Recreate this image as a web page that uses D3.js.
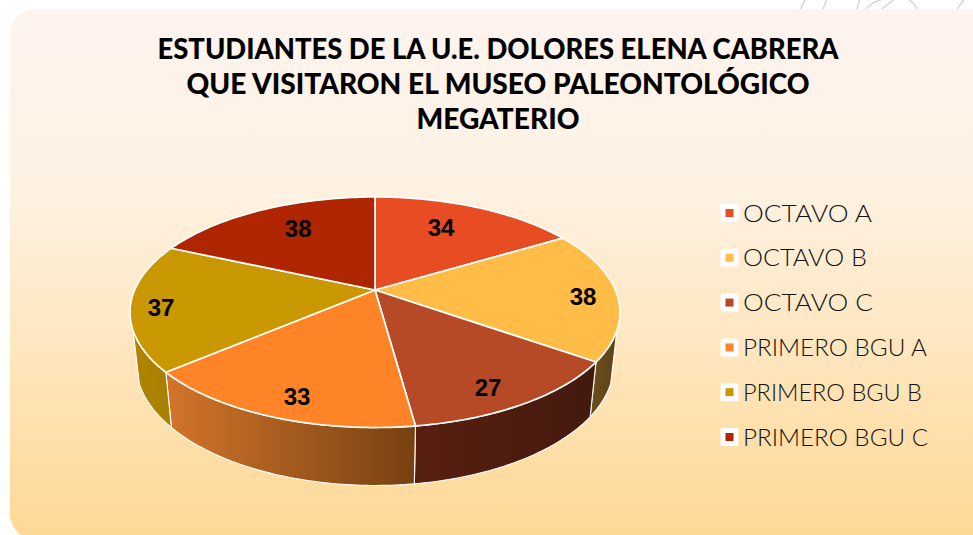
<!DOCTYPE html>
<html><head><meta charset="utf-8">
<style>html,body{margin:0;padding:0;background:#fff}svg{display:block}</style>
<script src="https://cdnjs.cloudflare.com/ajax/libs/d3/7.8.5/d3.min.js"></script>
</head><body><svg id="c" width="973" height="535"></svg>
<script>
const categories = ["OCTAVO A","OCTAVO B","OCTAVO C","PRIMERO BGU A","PRIMERO BGU B","PRIMERO BGU C"];
const values = [34,38,27,33,37,38];
const colors = ["#E84C22","#FFBD47","#B64926","#FF8427","#C99800","#AE2500"];
const titleLines = ["ESTUDIANTES DE LA U.E. DOLORES ELENA CABRERA","QUE VISITARON EL MUSEO PALEONTOLÓGICO","MEGATERIO"];
const titleWidths = [681,623,163];
const legendWidths = [129,124,130,184,179,185];
const sideStops = [null,["#6f4e1c","#5c4217"],["#581f10","#431a0e"],["#d2752b","#774010"],["#b08400","#a87f00"],null];
const labelRadius = [0.708,0.858,0.849,0.852,0.877,0.72];
const labelAngle = [0.437,0.524,0.564,0.463,0.476,0.549];

const svg = d3.select("#c");
const defs = svg.append("defs");

// faint sketch strokes peeking out above the panel
svg.append("g").attr("fill","none").attr("stroke","#cfcfcf").attr("stroke-width",1.2)
  .selectAll("path").data([
    "M799,12L806,-2","M822,12L827,-2","M856,12L860,-2","M864,12C870,2 880,0 886,-2","M878,12L896,-2",
    "M906,-2C914,2 918,8 917,12","M955,12L965,-2"
  ]).join("path").attr("d",d=>d);

const bg = defs.append("linearGradient").attr("id","bg").attr("x1",0).attr("y1",0).attr("x2",0).attr("y2",1);
bg.append("stop").attr("offset",0).attr("stop-color","#FEF4EF");
bg.append("stop").attr("offset",0.33).attr("stop-color","#FEF2E3");
bg.append("stop").attr("offset",1).attr("stop-color","#FED894");
svg.append("rect").attr("x",10).attr("y",9).attr("width",990).attr("height",531).attr("rx",26).attr("fill","url(#bg)");

// perspective projection of a flat disc
const project = (rim, a) => {
  const u = Math.sin(a), v = -Math.cos(a), w = 1 - rim.k*v;
  return [rim.cx + rim.rx*u/w, rim.cy + rim.ry*v/w];
};
const topRim = {cx:375, cy:290, rx:240.4, ry:111, k:0.193};
const botRim = {cx:375, cy:341, rx:234.5, ry:117, k:0.19};
const sideFrom = 110*Math.PI/180, sideTo = 250*Math.PI/180;

const arcs = d3.pie().sort(null)(values);
const line = d3.line();
const arcPts = (rim,a0,a1) => d3.range(0,61).map(i => project(rim, a0+(a1-a0)*i/60));

// side walls
arcs.forEach((d,i)=>{
  const a0 = Math.max(d.startAngle, sideFrom), a1 = Math.min(d.endAngle, sideTo);
  if (a1 <= a0 || !sideStops[i]) return;
  const t = arcPts(topRim,a0,a1), b = arcPts(botRim,a0,a1);
  const xs = t.concat(b).map(p=>p[0]);
  const g = defs.append("linearGradient").attr("id","s"+i).attr("gradientUnits","userSpaceOnUse")
    .attr("x1",d3.min(xs)).attr("x2",d3.max(xs)).attr("y1",0).attr("y2",0);
  g.append("stop").attr("offset",0).attr("stop-color",sideStops[i][0]);
  g.append("stop").attr("offset",1).attr("stop-color",sideStops[i][1]);
  svg.append("path").attr("d",line(t.concat(b.reverse()))+"Z").attr("fill",`url(#s${i})`)
    .attr("stroke","#fff").attr("stroke-width",1.1).attr("stroke-linejoin","round");
});
// top faces
arcs.forEach((d,i)=>{
  const pts = [[topRim.cx,topRim.cy]].concat(arcPts(topRim,d.startAngle,d.endAngle));
  svg.append("path").attr("d",line(pts)+"Z").attr("fill",colors[i])
    .attr("stroke","#fff").attr("stroke-width",1.7).attr("stroke-linejoin","round");
});
// data labels
arcs.forEach((d,i)=>{
  const a = d.startAngle+(d.endAngle-d.startAngle)*labelAngle[i];
  const r = labelRadius[i];
  const p = project({...topRim,rx:topRim.rx*r,ry:topRim.ry*r,k:topRim.k*r},a);
  svg.append("text").attr("x",p[0]).attr("y",p[1]).attr("dy","0.36em").attr("text-anchor","middle")
    .attr("font-family","Liberation Sans").attr("font-weight",700).attr("font-size",24).attr("fill","#000").text(values[i]);
});
// title
const title = svg.append("g").attr("font-family","Lato").attr("font-weight",900).attr("font-size",28).attr("fill","#000").attr("text-anchor","middle");
titleLines.forEach((s,i)=>title.append("text").attr("x",498).attr("y",59+i*35)
  .attr("textLength",titleWidths[i]).attr("lengthAdjust","spacingAndGlyphs").text(s));
// legend
const ly = d3.scalePoint().domain(categories).range([213,437]);
const leg = svg.append("g").selectAll("g").data(categories).join("g").attr("transform",d=>`translate(0,${ly(d)})`);
leg.append("rect").attr("x",720.5).attr("y",-9).attr("width",18).attr("height",18).attr("rx",2).attr("fill","#fff");
leg.append("rect").attr("x",725.5).attr("y",-4).attr("width",8).attr("height",8).attr("fill",(d,i)=>colors[i]);
leg.append("text").attr("x",743).attr("y",8.5).attr("font-family","Lato").attr("font-weight",300).attr("font-size",24).attr("fill","#111")
  .attr("textLength",(d,i)=>legendWidths[i]).attr("lengthAdjust","spacingAndGlyphs").text(d=>d);
</script></body></html>
